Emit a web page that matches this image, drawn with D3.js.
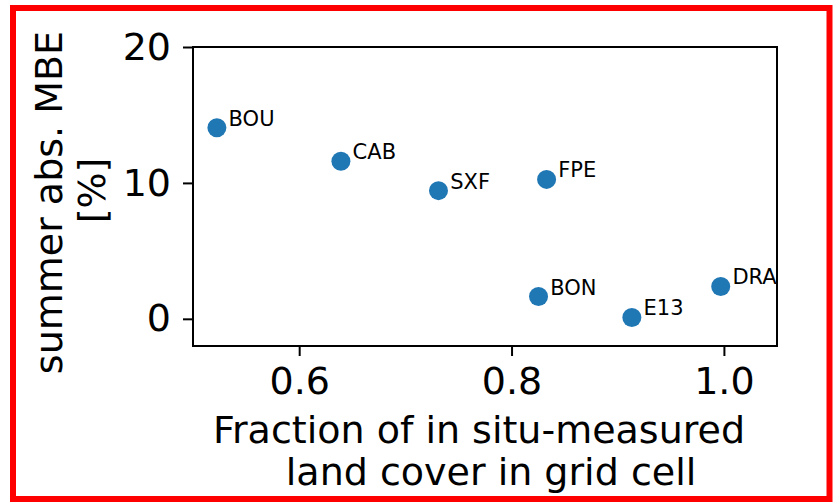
<!DOCTYPE html>
<html>
<head>
<meta charset="utf-8">
<script src="https://cdn.jsdelivr.net/npm/d3@7"></script>
<style>
  body { margin: 0; background: #fff; }
  text { font-family: "DejaVu Sans", sans-serif; fill: #000; }
  .ejes text { font-size: 38px; }
  .ejes line { stroke: #000; stroke-width: 2; }
  .labels { font-size: 38px; }
  .etiqueta { font-size: 21px; }
</style>
</head>
<body>
<div id="graf"></div>
<script>
// datos
const estaciones = ["BOU", "CAB", "SXF", "FPE", "BON", "E13", "DRA"]
const fraccion = [0.5225, 0.6393, 0.7312, 0.833, 0.8254, 0.9133, 0.997]
const mbe = [14.06, 11.6, 9.43, 10.26, 1.64, 0.1, 2.38]
const xTicks = [0.6, 0.8, 1.0]
const yTicks = [0, 10, 20]

const data = estaciones.map((e, i) => ({ estacion: e, fraccion: fraccion[i], mbe: mbe[i] }))

const graf = d3.select("#graf")

// dimensiones
const anchoTotal = 833
const altoTotal = 503
const margins = { left: 193, top: 47, right: 56, bottom: 157 }
const ancho = anchoTotal - margins.left - margins.right
const alto = altoTotal - margins.top - margins.bottom

const svg = graf
  .append("svg")
  .attr("width", anchoTotal)
  .attr("height", altoTotal)

// marco rojo
svg.append("rect")
  .attr("x", 13)
  .attr("y", 8)
  .attr("width", 816.5)
  .attr("height", 491)
  .attr("fill", "none")
  .attr("stroke", "#ff0000")
  .attr("stroke-width", 6)

const g = svg
  .append("g")
  .attr("transform", `translate(${margins.left}, ${margins.top})`)

// escalas
const x = d3.scaleLinear().domain([0.5, 1.05]).range([0, ancho])
const y = d3.scaleLinear().domain([-2, 20]).range([alto, 0])

const xAxis = d3.axisBottom(x).tickValues(xTicks).tickFormat(d3.format(".1f"))
  .tickSize(10).tickSizeOuter(0).tickPadding(11)
const yAxis = d3.axisLeft(y).tickValues(yTicks).tickFormat(d3.format("d"))
  .tickSize(10).tickSizeOuter(0).tickPadding(12)

g.append("g")
  .attr("transform", `translate(0, ${alto})`)
  .attr("class", "ejes")
  .call(xAxis)
  .call((s) => s.select(".domain").remove())

g.append("g")
  .attr("class", "ejes")
  .call(yAxis)
  .call((s) => s.select(".domain").remove())

// caja de los ejes
g.append("rect")
  .attr("width", ancho)
  .attr("height", alto)
  .attr("fill", "none")
  .attr("stroke", "#000")
  .attr("stroke-width", 2)

// etiqueta eje x
const xLabel = g.append("text")
  .attr("text-anchor", "middle")
  .attr("class", "labels")
xLabel.append("tspan").attr("x", ancho / 2).attr("y", alto + 97)
  .text("Fraction of in situ-measured\u00a0")
xLabel.append("tspan").attr("x", ancho / 2).attr("y", alto + 139)
  .text("\u00a0land cover in grid cell")

// etiqueta eje y
const yLabel = g.append("g")
  .attr("transform", `translate(0, ${alto / 2}) rotate(-90)`)
  .append("text")
  .attr("text-anchor", "middle")
  .attr("class", "labels")
yLabel.append("tspan").attr("x", 0).attr("y", -131)
  .text("summer abs. MBE\u00a0")
yLabel.append("tspan").attr("x", 0).attr("y", -88)
  .text("\u00a0[%]")

// puntos
g.selectAll("circle").data(data)
  .enter()
  .append("circle")
  .attr("cx", (d) => x(d.fraccion))
  .attr("cy", (d) => y(d.mbe))
  .attr("r", 9.5)
  .attr("fill", "#1f77b4")

g.selectAll(".etiqueta").data(data)
  .enter()
  .append("text")
  .attr("class", "etiqueta")
  .attr("x", (d) => x(d.fraccion) + 11.7)
  .attr("y", (d) => y(d.mbe) - 2)
  .text((d) => d.estacion)
</script>
</body>
</html>
